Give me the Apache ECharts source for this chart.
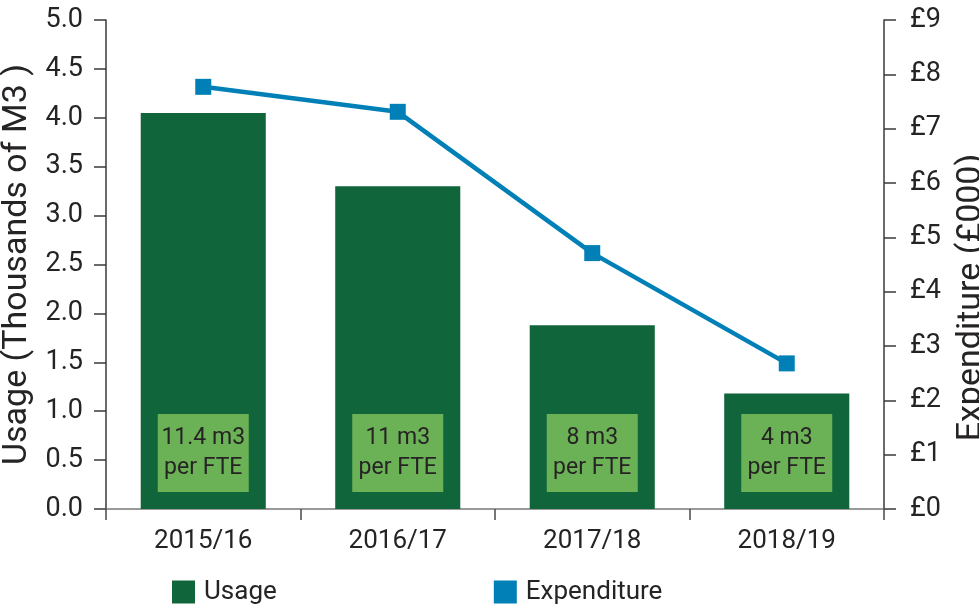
<!DOCTYPE html>
<html>
<head>
<meta charset="utf-8">
<title>Water usage and expenditure</title>
<script src="https://cdn.jsdelivr.net/npm/echarts@6/dist/echarts.min.js"></script>
<style>
  html, body { margin: 0; padding: 0; background: #ffffff; }
  #chart { width: 979px; height: 608px; }
</style>
</head>
<body>
<div id="chart"></div>
<script>
// Financial years shown on the category axis
const years = ['2015/16', '2016/17', '2017/18', '2018/19'];
// Water usage, thousands of m3 (left axis)
const usage = [4.05, 3.30, 1.88, 1.18];
// Expenditure, £000 (right axis)
const expenditure = [7.77, 7.31, 4.71, 2.68];
// Usage per full-time equivalent, m3
const perFte = ['11.4', '11', '8', '4'];
// Axis ranges and tick steps
const usageTicks = { min: 0, max: 5, step: 0.5 };
const spendTicks = { min: 0, max: 9, step: 1 };

const FONT = 'Roboto, "Noto Sans", sans-serif';
const TEXT = '#262324';
const GREEN = '#10653a';
const LIGHT_GREEN = '#6bb256';
const BLUE = '#0080b7';

const chart = echarts.init(document.getElementById('chart'), null, { renderer: 'canvas' });

chart.setOption({
  animation: false,
  backgroundColor: '#ffffff',
  textStyle: { fontFamily: FONT, color: TEXT },
  grid: {
    left: 106, right: 95, top: 20, bottom: 99,
    outerBoundsMode: 'none'
  },
  legend: {
    data: ['Usage', 'Expenditure'],
    left: 167,
    top: 574,
    icon: 'rect',
    itemWidth: 23,
    itemHeight: 23,
    itemGap: 217,
    textStyle: { fontFamily: FONT, fontSize: 26, color: TEXT, padding: [0, 0, 0, 4] }
  },
  xAxis: {
    type: 'category',
    data: years,
    axisLine: { lineStyle: { color: '#7a7a7a', width: 1.5 } },
    axisTick: { show: true, length: 11, alignWithLabel: false, lineStyle: { color: '#4a4a4a', width: 1.5 } },
    axisLabel: { fontFamily: FONT, fontSize: 26, color: TEXT, margin: 19 }
  },
  yAxis: [
    {
      type: 'value',
      min: usageTicks.min,
      max: usageTicks.max,
      interval: usageTicks.step,
      name: 'Usage (Thousands of M3 )',
      nameLocation: 'middle',
      nameGap: 72,
      nameTextStyle: { fontFamily: FONT, fontSize: 34, color: TEXT },
      axisLine: { show: true, lineStyle: { color: '#3a3a3a', width: 1.5 } },
      axisTick: { show: true, length: 12, lineStyle: { color: '#3a3a3a', width: 1.5 } },
      axisLabel: { fontFamily: FONT, fontSize: 27, color: TEXT, margin: 23, formatter: v => v.toFixed(1) },
      splitLine: { show: false }
    },
    {
      type: 'value',
      position: 'right',
      min: spendTicks.min,
      max: spendTicks.max,
      interval: spendTicks.step,
      name: 'Expenditure (£000)',
      nameLocation: 'middle',
      nameGap: 70,
      nameTextStyle: { fontFamily: FONT, fontSize: 34, color: TEXT, padding: [0, 66, 0, 0] },
      axisLine: { show: true, lineStyle: { color: '#3a3a3a', width: 1.5 } },
      axisTick: { show: true, length: 12, lineStyle: { color: '#3a3a3a', width: 1.5 } },
      axisLabel: { fontFamily: FONT, fontSize: 27, color: TEXT, margin: 26, formatter: v => '£' + v },
      splitLine: { show: false }
    }
  ],
  series: [
    {
      name: 'Usage',
      type: 'bar',
      yAxisIndex: 0,
      data: usage,
      barWidth: '64.3%',
      itemStyle: { color: GREEN },
      label: {
        show: true,
        position: 'insideBottom',
        distance: 17,
        formatter: p => perFte[p.dataIndex] + ' m3\nper FTE',
        backgroundColor: LIGHT_GREEN,
        width: 91,
        align: 'center',
        lineHeight: 30,
        padding: [9, 0, 9, 0],
        fontFamily: FONT,
        fontSize: 23,
        color: TEXT
      }
    },
    {
      name: 'Expenditure',
      type: 'line',
      yAxisIndex: 1,
      data: expenditure,
      symbol: 'rect',
      symbolSize: 16,
      lineStyle: { color: BLUE, width: 4.5 },
      itemStyle: { color: BLUE },
      z: 3
    }
  ]
});
</script>
</body>
</html>
